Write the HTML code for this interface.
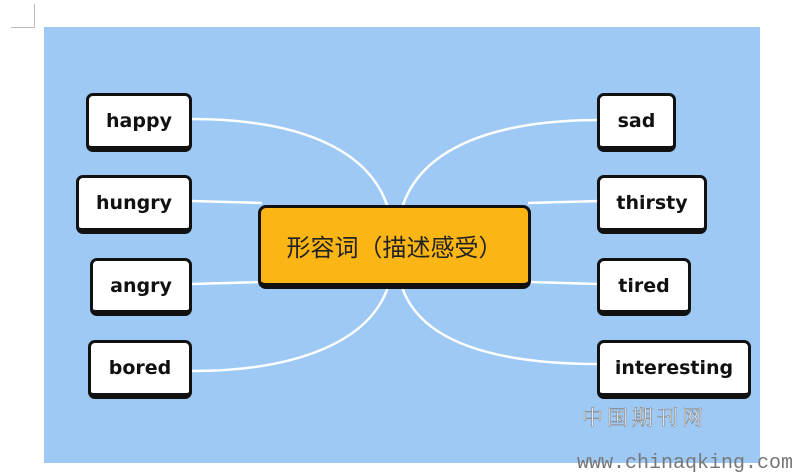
<!DOCTYPE html>
<html><head><meta charset="utf-8"><style>
body{margin:0;width:809px;height:474px;background:#fff;position:relative;overflow:hidden;font-family:"Liberation Sans","Noto Sans CJK SC",sans-serif}
.bg{position:absolute;left:44px;top:27px;width:716px;height:436px;background:#9dc9f4}
.n{position:absolute;background:#fff;border:3px solid #111;border-bottom-width:6px;border-radius:7px;box-sizing:border-box;display:flex;align-items:center;justify-content:center;font-weight:bold;font-size:19px;color:#111;font-family:"DejaVu Sans",sans-serif}
.c{position:absolute;left:258px;top:205px;width:273px;height:84px;background:#fbb514;border:3px solid #111;border-bottom-width:6px;border-radius:8px;box-sizing:border-box;display:flex;align-items:center;justify-content:center;font-size:24px;color:#222}
</style></head><body>
<div style="position:absolute;left:34px;top:4px;width:1px;height:23px;background:#bbb"></div>
<div style="position:absolute;left:11px;top:27px;width:24px;height:1px;background:#bbb"></div>
<div class="bg"></div>
<svg style="position:absolute;left:0;top:0" width="809" height="474">
<g fill="none" stroke="#fff" stroke-width="2.5">
<path d="M191 119 C300 119 370 150 388 208"/>
<path d="M191 201 L262 203"/>
<path d="M191 284 L262 282"/>
<path d="M191 371 C300 371 370 340 388 287"/>
<path d="M600 120 C490 120 420 150 402 208"/>
<path d="M600 201 L528 203"/>
<path d="M600 284 L528 282"/>
<path d="M600 364 C490 364 420 340 402 287"/>
</g></svg>
<div class="n" style="left:86px;top:93px;width:106px;height:59px">happy</div>
<div class="n" style="left:76px;top:175px;width:116px;height:59px">hungry</div>
<div class="n" style="left:90px;top:258px;width:102px;height:58px">angry</div>
<div class="n" style="left:88px;top:340px;width:104px;height:59px">bored</div>
<div class="n" style="left:597px;top:93px;width:79px;height:59px">sad</div>
<div class="n" style="left:597px;top:175px;width:110px;height:59px">thirsty</div>
<div class="n" style="left:597px;top:258px;width:94px;height:58px">tired</div>
<div class="n" style="left:597px;top:340px;width:154px;height:59px">interesting</div>
<div class="c">形容词（描述感受）</div>
<div style="position:absolute;left:582px;top:402px;font-size:21px;color:#fff;-webkit-text-stroke:0.6px #888;font-family:'Noto Serif CJK SC',serif;letter-spacing:4px">中国期刊网</div>
<div style="position:absolute;left:577px;top:452px;font-size:20px;color:#777;font-family:'Liberation Mono',monospace;letter-spacing:0px">www.chinaqking.com</div>
</body></html>
